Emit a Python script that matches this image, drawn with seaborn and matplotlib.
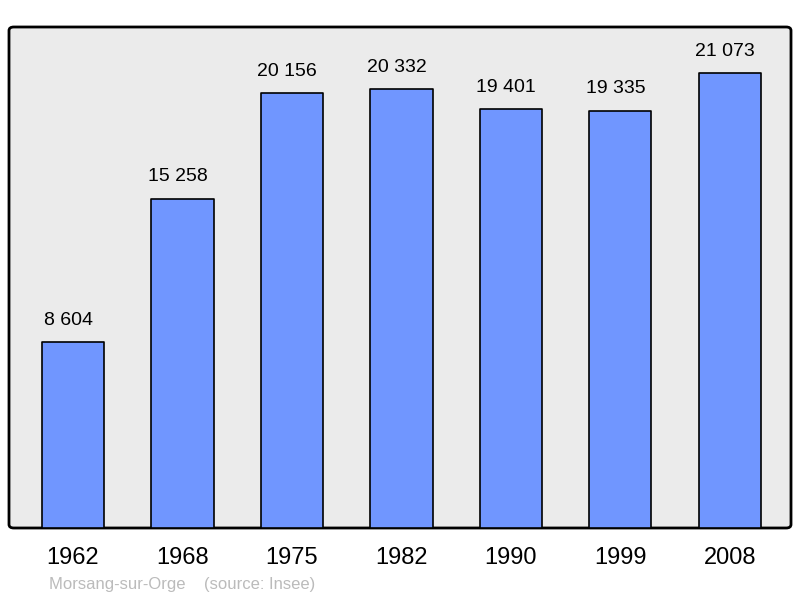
import matplotlib
matplotlib.use("Agg")
import matplotlib.pyplot as plt
import seaborn as sns
import pandas as pd
from matplotlib.patches import FancyBboxPatch

years = ["1962", "1968", "1975", "1982", "1990", "1999", "2008"]
population = [8604, 15258, 20156, 20332, 19401, 19335, 21073]
value_labels = ["8 604", "15 258", "20 156", "20 332", "19 401", "19 335", "21 073"]
footer = "Morsang-sur-Orge    (source: Insee)"

df = pd.DataFrame({"year": years, "pop": population})

sns.set_style("white")
plt.rcParams["font.family"] = ["Liberation Sans", "DejaVu Sans"]

fig = plt.figure(figsize=(8, 5.98), dpi=100)
ax = fig.add_axes([9 / 800, 70 / 598, 782 / 800, 501 / 598])
ax.patch.set_visible(False)

# rounded frame background
frame = FancyBboxPatch((9 / 800, 70 / 598), 782 / 800, 501 / 598,
                       boxstyle="round,pad=0,rounding_size=0.006",
                       transform=fig.transFigure, facecolor="#ebebeb",
                       edgecolor="black", linewidth=2, zorder=-10, clip_on=False)
ax.add_artist(frame)

sns.barplot(data=df, x="year", y="pop", color="#7096ff", saturation=1,
            width=0.57, edgecolor="black", linewidth=1.2, ax=ax, zorder=2)
for p in ax.patches:
    if p is not frame:
        p.set_joinstyle("round")

ax.set_ylim(0, 23204)
ax.set_xlim(-0.585, 6.56)
for i, (v, lab) in enumerate(zip(population, value_labels)):
    ax.annotate(lab, (i, v), xytext=(-3.3, 9.5), textcoords="offset points",
                ha="center", va="bottom", fontsize=14, color="black")

for s in ax.spines.values():
    s.set_visible(False)
ax.set_yticks([])
ax.set_xlabel("")
ax.set_ylabel("")
ax.tick_params(axis="x", length=0, pad=14, labelsize=17, labelcolor="black")

fig.text(49 / 800, 1 - 584 / 598, footer, color="#bbbbbb", fontsize=12,
         ha="left", va="center")

fig.savefig("out.png", dpi=100)
